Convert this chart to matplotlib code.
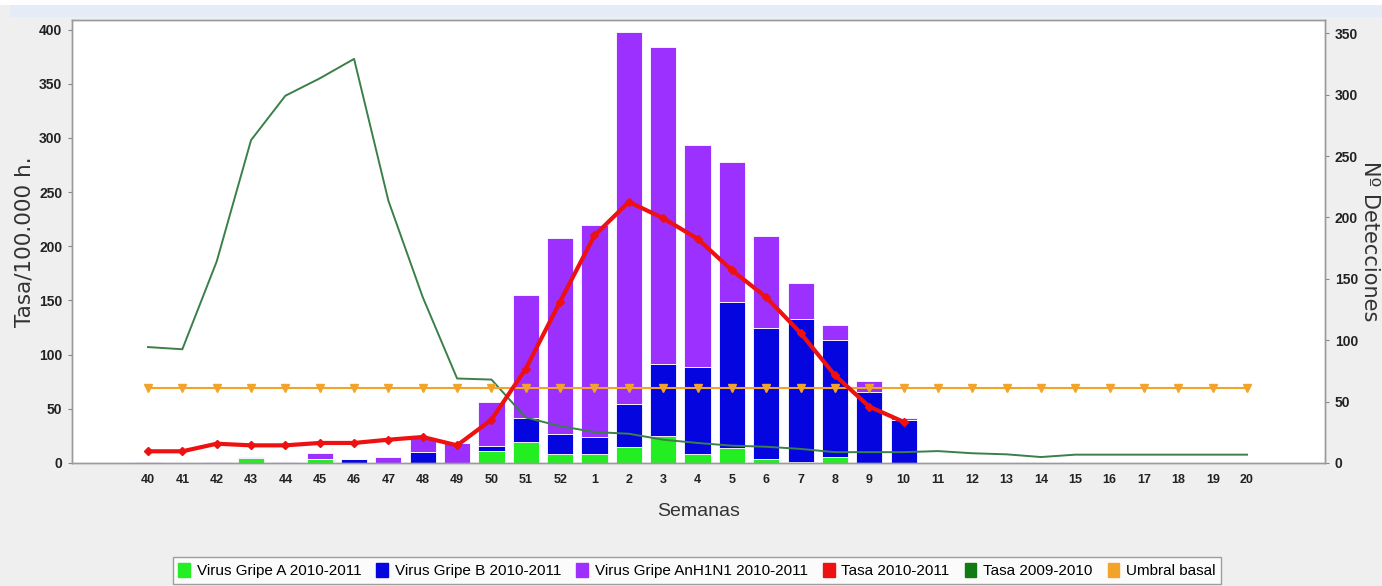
import matplotlib
matplotlib.use("Agg")
import matplotlib.pyplot as plt
from matplotlib.patches import Patch, Rectangle
import numpy as np

weeks = ["40", "41", "42", "43", "44", "45", "46", "47", "48", "49", "50", "51", "52",
         "1", "2", "3", "4", "5", "6", "7", "8", "9", "10", "11", "12", "13", "14",
         "15", "16", "17", "18", "19", "20"]

# Detections (right axis), weeks 40..10 then zeros
virus_a = [0, 0, 0, 4, 0, 3, 0, 0, 0, 0, 10, 17, 7, 7, 13, 22, 7, 12, 3, 1, 5, 0, 0,
           0, 0, 0, 0, 0, 0, 0, 0, 0, 0]
virus_b = [0, 0, 0, 0, 0, 0, 3, 0, 9, 0, 4, 20, 17, 14, 35, 59, 71, 119, 107, 116, 95, 58, 35,
           0, 0, 0, 0, 0, 0, 0, 0, 0, 0]
virus_h1n1 = [1, 0, 1, 1, 1, 5, 0, 5, 11, 16, 36, 100, 159, 173, 303, 258, 181, 114, 75, 30, 12, 9, 2,
              0, 0, 0, 0, 0, 0, 0, 0, 0, 0]

# Rates (left axis)
tasa_2010 = [10.8, 10.8, 17.8, 16.3, 16.3, 18.5, 18.5, 21.5, 24, 16.3, 40, 87, 149, 210, 241,
             226, 207, 178, 153, 120, 81, 52, 38]
tasa_2009 = [107, 105, 186, 298, 339, 355, 373, 242, 153, 78, 77, 42, 34, 28.6, 27, 21.5, 18.5,
             16, 15, 13, 10, 10, 10, 11, 9, 8, 5.5, 7.7, 7.7, 7.7, 7.7, 7.7, 7.7]
umbral = [69] * 33

c_a = "#22ee22"
c_b = "#0505e0"
c_h = "#9b30ff"
c_red = "#ee1111"
c_green = "#3a8048"
c_green_leg = "#127a12"
c_orange = "#f2a32a"

narrow = ["Liberation Sans", "DejaVu Sans"]

fig = plt.figure(figsize=(13.82, 5.86), dpi=100, facecolor="#efefef")
fig.patches.append(Rectangle((0.007, 1 - 17 / 586), 0.993, 12 / 586, transform=fig.transFigure,
                             facecolor="#e6ecf7", edgecolor="none", zorder=0))
fig.patches.append(Rectangle((0, 1 - 5 / 586), 1, 5 / 586, transform=fig.transFigure,
                             facecolor="white", edgecolor="none", zorder=0))

ax2 = fig.add_axes([72 / 1382, 1 - 463 / 586, (1325 - 72) / 1382, (463 - 20) / 586])
ax = ax2.twinx()
# rates axis drawn on top, bars beneath
ax.set_zorder(ax2.get_zorder() + 1)
ax.patch.set_visible(False)
ax2.patch.set_visible(True)
ax2.patch.set_facecolor("white")

x = np.arange(len(weeks))
a = np.array(virus_a)
b = np.array(virus_b)
h = np.array(virus_h1n1)
bw = 0.76
ax2.bar(x, a, bw, color=c_a, edgecolor="white", linewidth=0.6)
ax2.bar(x, b, bw, bottom=a, color=c_b, edgecolor="white", linewidth=0.6)
ax2.bar(x, h, bw, bottom=a + b, color=c_h, edgecolor="white", linewidth=0.6)

ax.plot(x, tasa_2009, color=c_green, lw=1.4)
ax.plot(x, umbral, color=c_orange, lw=1.5, marker="v", ms=6, mec=c_orange, mfc=c_orange)
ax.plot(x[:len(tasa_2010)], tasa_2010, color=c_red, lw=3.0, marker="D", ms=4.5,
        mec=c_red, mfc=c_red)

xl = (-2.213, 34.27)
ax2.set_xlim(*xl)
ax.set_ylim(0, 408.9)
ax2.set_ylim(0, 360.8)

# rates on the left, detections on the right
ax.yaxis.tick_left()
ax.yaxis.set_label_position("left")
ax2.yaxis.tick_right()
ax2.yaxis.set_label_position("right")

ax.set_yticks(np.arange(0, 401, 50))
ax2.set_yticks(np.arange(0, 351, 50))
ax2.set_xticks(x)
ax2.set_xticklabels(weeks)
ax2.tick_params(axis="x", bottom=True, labelbottom=True, length=0, pad=8)
ax.tick_params(axis="x", bottom=False, labelbottom=False, top=False, labeltop=False)

for lab in ax.get_yticklabels() + ax2.get_yticklabels() + ax2.get_xticklabels():
    lab.set_fontfamily(narrow)
    lab.set_fontweight("bold")
    lab.set_color("#222222")
for lab in ax.get_yticklabels() + ax2.get_yticklabels():
    lab.set_fontsize(10)
for lab in ax2.get_xticklabels():
    lab.set_fontsize(9)

ax.tick_params(axis="y", length=3, width=0.8, color="#888888", pad=4)
ax2.tick_params(axis="y", length=3, width=0.8, color="#888888", pad=4)

for axx in (ax, ax2):
    for s in axx.spines.values():
        s.set_color("#9a9a9a")
        s.set_linewidth(1.0)

ax.set_ylabel("Tasa/100.000 h.", fontsize=15.5, color="#333333", labelpad=3)
ax2.set_ylabel("Nº Detecciones", fontsize=15, color="#333333", rotation=270, labelpad=16)
ax2.set_xlabel("Semanas", fontsize=14, family=narrow, color="#333333", labelpad=12)

handles = [Patch(color=c_a), Patch(color=c_b), Patch(color=c_h), Patch(color=c_red),
           Patch(color=c_green_leg), Patch(color=c_orange)]
labels = ["Virus Gripe A 2010-2011", "Virus Gripe B 2010-2011", "Virus Gripe AnH1N1 2010-2011",
          "Tasa 2010-2011", "Tasa 2009-2010", "Umbral basal"]
leg = fig.legend(handles, labels, loc="center", bbox_to_anchor=(697 / 1382, 1 - 570.5 / 586),
                 ncol=6, frameon=True, fancybox=False, edgecolor="#888888",
                 prop={"family": narrow, "size": 11}, handlelength=0.75, handleheight=1.1,
                 handletextpad=0.45, columnspacing=1.0, borderpad=0.35)
leg.get_frame().set_linewidth(1.0)
leg.get_frame().set_facecolor("white")

fig.savefig("out.png", dpi=100, facecolor=fig.get_facecolor())
